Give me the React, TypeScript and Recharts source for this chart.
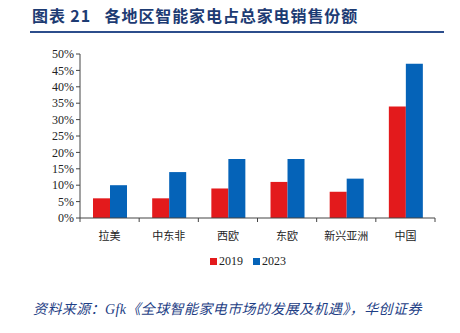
import React from "react";
import { BarChart, Bar, XAxis, YAxis } from "recharts";

const categories = ["拉美", "中东非", "西欧", "东欧", "新兴亚洲", "中国"];
const values2019 = [6, 6, 9, 11, 8, 34];
const values2023 = [10, 14, 18, 18, 12, 47];
const yTicks = [0, 5, 10, 15, 20, 25, 30, 35, 40, 45, 50];
const seriesNames = ["2019", "2023"];

const data = categories.map((c, i) => ({ name: c, y2019: values2019[i], y2023: values2023[i] }));

const RED = "#e31a1c";
const BLUE = "#0563b8";
const NAVY = "#1d3b73";
const AXIS = "#444";
const TICK_SIZE = 4;
const TICK_MARGIN = 10;

const CategoryTick = (props: any) => {
  const { x, y, payload, index, visibleTicksCount } = props;
  const axisY = y - TICK_SIZE - TICK_MARGIN;
  const half = payload?.offset ?? 0;
  return (
    <g>
      <line x1={x - half} x2={x - half} y1={axisY} y2={axisY + TICK_SIZE} stroke={AXIS} />
      {index === visibleTicksCount - 1 && (
        <line x1={x + half} x2={x + half} y1={axisY} y2={axisY + TICK_SIZE} stroke={AXIS} />
      )}
      <text x={x} y={y} dy="0.71em" textAnchor="middle" fontFamily="'Noto Sans CJK SC', sans-serif" fontSize={11} fill="#222">
        {payload.value}
      </text>
    </g>
  );
};

export default function App() {
  return (
    <div style={{ position: "absolute", left: 0, top: 0, width: 460, height: 333, background: "#fff", overflow: "hidden" }}>
      <div style={{ position: "absolute", left: 32, top: 3, fontFamily: "'Noto Sans CJK SC', sans-serif", fontWeight: 700, fontSize: 16, color: NAVY, whiteSpace: "nowrap", letterSpacing: 0.9 }}>
        图表 21&nbsp;&nbsp;&nbsp;各地区智能家电占总家电销售份额
      </div>
      <div style={{ position: "absolute", left: 30, top: 31, width: 414, height: 2, background: "#2c4d8c" }} />
      <div style={{ position: "absolute", left: 0, top: 0 }}>
        <BarChart width={460} height={275} data={data} margin={{ top: 54, right: 25, left: 0, bottom: 27 }} barGap={0} barCategoryGap="22%">
          <XAxis dataKey="name" axisLine={{ stroke: AXIS }} tickLine={false} height={30} tickSize={TICK_SIZE}
            tick={<CategoryTick />} tickMargin={TICK_MARGIN} interval={0} />
          <YAxis width={80} domain={[0, 50]} ticks={yTicks} interval={0} tickFormatter={(v) => `${v}%`} axisLine={{ stroke: AXIS }}
            tickLine={{ stroke: AXIS }} tickSize={4} tick={{ fontFamily: "'Liberation Serif', serif", fontSize: 12, fill: "#222" }} />
          <Bar dataKey="y2019" name={seriesNames[0]} fill={RED} isAnimationActive={false} />
          <Bar dataKey="y2023" name={seriesNames[1]} fill={BLUE} isAnimationActive={false} />
        </BarChart>
      </div>
      <div style={{ position: "absolute", top: 254, left: 0, width: 460, display: "flex", justifyContent: "center", fontFamily: "'Liberation Serif', serif", fontSize: 12, color: "#222", paddingLeft: 36, boxSizing: "border-box" }}>
        <span style={{ display: "flex", alignItems: "center", marginRight: 10 }}>
          <span style={{ width: 7, height: 7, background: RED, display: "inline-block", marginRight: 2 }} />{seriesNames[0]}
        </span>
        <span style={{ display: "flex", alignItems: "center" }}>
          <span style={{ width: 7, height: 7, background: BLUE, display: "inline-block", marginRight: 2 }} />{seriesNames[1]}
        </span>
      </div>
      <div style={{ position: "absolute", left: 33, top: 298, fontFamily: "'Liberation Serif', 'Noto Sans CJK SC', serif", fontStyle: "italic", fontSize: 14, letterSpacing: 0.4, color: "#1f3f86", whiteSpace: "nowrap" }}>
        资料来源：Gfk《全球智能家电市场的发展及机遇》，华创证券
      </div>
    </div>
  );
}
